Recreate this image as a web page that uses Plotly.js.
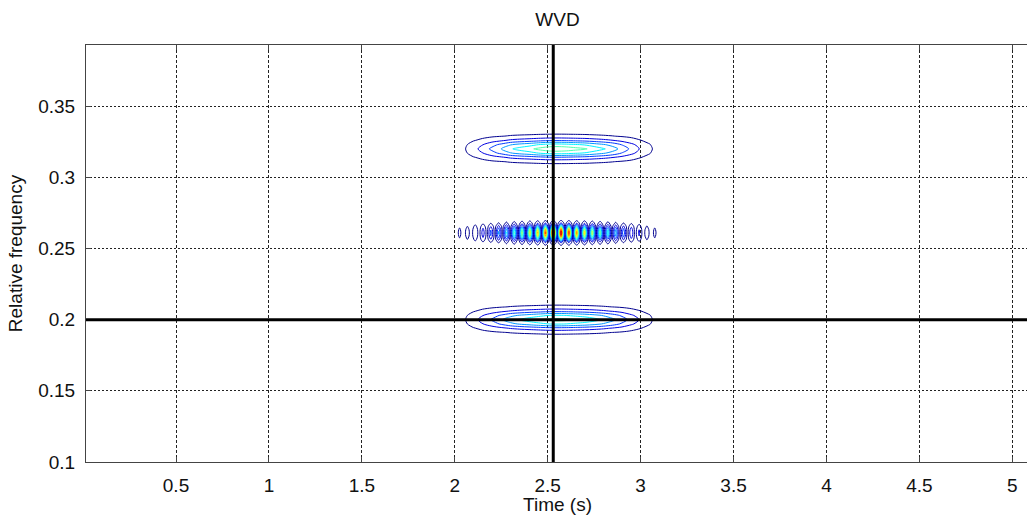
<!DOCTYPE html>
<html>
<head>
<meta charset="utf-8">
<script src="https://cdn.plot.ly/plotly-3.0.1.min.js"></script>
<style>
html, body { margin:0; padding:0; overflow:hidden; background:#fff; }
#chart { width:1029px; height:515px; }
</style>
</head>
<body>
<div id="chart"></div>
<script>
// ---- axis ticks ----
const xTickVals = [0.5, 1, 1.5, 2, 2.5, 3, 3.5, 4, 4.5, 5];
const xTickText = ["0.5", "1", "1.5", "2", "2.5", "3", "3.5", "4", "4.5", "5"];
const yTickVals = [0.1, 0.15, 0.2, 0.25, 0.3, 0.35];
const yTickText = ["0.1", "0.15", "0.2", "0.25", "0.3", "0.35"];

// ---- cursor lines ----
const cursorTime = 2.53;
const cursorFreq = 0.2;

// ---- band at 0.32 (smooth) ----
const topTime = [2.00,2.05,2.10,2.15,2.20,2.25,2.30,2.35,2.40,2.45,2.50,2.55,2.60,2.65,2.70,2.75,2.80,2.85,2.90,2.95,3.00,3.05,3.10];
const topTimeProfile = [0,0.03,0.09,0.15,0.22,0.28,0.35,0.39,0.42,0.46,0.49,0.50,0.49,0.47,0.45,0.41,0.37,0.32,0.25,0.18,0.11,0.055,0];
const topFreq = [0.308,0.311,0.314,0.317,0.320,0.323,0.326,0.329,0.332];
const topFreqProfile = [0.02,0.13,0.38,0.78,1,0.78,0.38,0.13,0.02];

// ---- band at 0.2 (smooth) ----
const botTime = [2.00,2.05,2.10,2.15,2.20,2.25,2.30,2.35,2.40,2.45,2.50,2.55,2.60,2.65,2.70,2.75,2.80,2.85,2.90,2.95,3.00,3.05,3.10];
const botTimeProfile = [0,0.03,0.09,0.15,0.21,0.27,0.33,0.37,0.40,0.43,0.46,0.47,0.46,0.44,0.42,0.39,0.35,0.30,0.24,0.17,0.11,0.055,0];
const botFreq = [0.188,0.191,0.194,0.197,0.200,0.203,0.206,0.209,0.212];
const botFreqProfile = [0.02,0.13,0.38,0.78,1,0.78,0.38,0.13,0.02];

// ---- band at 0.26 (interference fringes) ----
const midTime = [1.942,1.963,1.984,2.005,2.026,2.047,2.068,2.089,2.110,2.131,2.152,2.173,2.194,2.215,2.236,2.257,2.278,2.299,2.320,2.341,2.362,2.383,2.404,2.425,2.446,2.467,2.488,2.509,2.530,2.551,2.572,2.593,2.614,2.635,2.656,2.677,2.698,2.719,2.740,2.761,2.782,2.803,2.824,2.845,2.866,2.887,2.908,2.929,2.950,2.971,2.992,3.013,3.034,3.055,3.076,3.097,3.118];
const midTimeProfile = [0,0,0,0,0.06,0,0.08,0,0.12,0,0.17,0,0.23,0,0.30,0,0.37,0,0.45,0,0.53,0,0.61,0,0.69,0,0.80,0,1.00,0,0.92,0,0.82,0,0.73,0,0.65,0,0.57,0,0.49,0,0.41,0,0.34,0,0.27,0,0.20,0,0.14,0,0.09,0,0.06,0,0];
const midFreq = [0.2518,0.2541,0.2564,0.2587,0.2610,0.2633,0.2656,0.2679,0.2702];
const midFreqProfile = [0.02,0.15,0.5,0.85,1,0.85,0.5,0.15,0.02];

const jet = [[0,'#00008F'],[0.125,'#0000FF'],[0.375,'#00FFFF'],[0.625,'#FFFF00'],[0.875,'#FF0000'],[1,'#800000']];

function table(fp, tp) {
  return fp.map(f => tp.map(t => f * t));
}

function band(x, y, z) {
  return {
    type: 'contour', x: x, y: y, z: z,
    zmin: 0, zmax: 1, zauto: false,
    autocontour: false,
    contours: { start: 0.04, end: 0.96, size: 0.08, coloring: 'lines', showlabels: false },
    line: { width: 1, smoothing: 0.8 },
    colorscale: jet, showscale: false, hoverinfo: 'skip'
  };
}

const traces = [
  band(topTime, topFreq, table(topFreqProfile, topTimeProfile)),
  band(midTime, midFreq, table(midFreqProfile, midTimeProfile)),
  band(botTime, botFreq, table(botFreqProfile, botTimeProfile))
];

const fontFam = '"Liberation Sans", Arial, Helvetica, sans-serif';

const layout = {
  width: 1029, height: 515,
  margin: { l: 86, r: 0, t: 45, b: 53 },
  paper_bgcolor: '#fff', plot_bgcolor: '#fff',
  font: { family: fontFam, size: 19, color: '#111' },
  title: { text: 'WVD', x: 0.5, xref: 'paper', y: 0.962, yanchor: 'middle', font: { family: fontFam, size: 19, color: '#111' } },
  showlegend: false,
  xaxis: {
    range: [0.0157, 5.09], tickmode: 'array', tickvals: xTickVals, ticktext: xTickText,
    showgrid: true, gridcolor: '#222', griddash: '3px,2px', gridwidth: 1,
    showline: true, linecolor: '#444', linewidth: 1, mirror: 'ticks',
    ticks: 'inside', ticklen: 5, tickcolor: '#444', zeroline: false,
    ticklabelstandoff: 6,
    title: { text: 'Time (s)', standoff: 4, font: { family: fontFam, size: 19, color: '#111' } }
  },
  yaxis: {
    range: [0.1, 0.393], tickmode: 'array', tickvals: yTickVals, ticktext: yTickText,
    showgrid: true, gridcolor: '#222', griddash: '2px,2px', gridwidth: 1,
    showline: true, linecolor: '#444', linewidth: 1, mirror: false,
    ticks: 'inside', ticklen: 5, tickcolor: '#444', zeroline: false,
    ticklabelstandoff: 6,
    title: { text: 'Relative frequency', standoff: 10, font: { family: fontFam, size: 19, color: '#111' } }
  },
  shapes: [
    { type: 'line', xref: 'x', yref: 'paper', x0: cursorTime, x1: cursorTime, y0: 0, y1: 1, line: { color: '#000', width: 3 } },
    { type: 'line', xref: 'paper', yref: 'y', x0: 0, x1: 1, y0: cursorFreq, y1: cursorFreq, line: { color: '#000', width: 3 } }
  ]
};

Plotly.newPlot('chart', traces, layout, { staticPlot: true, displayModeBar: false });
</script>
</body>
</html>
